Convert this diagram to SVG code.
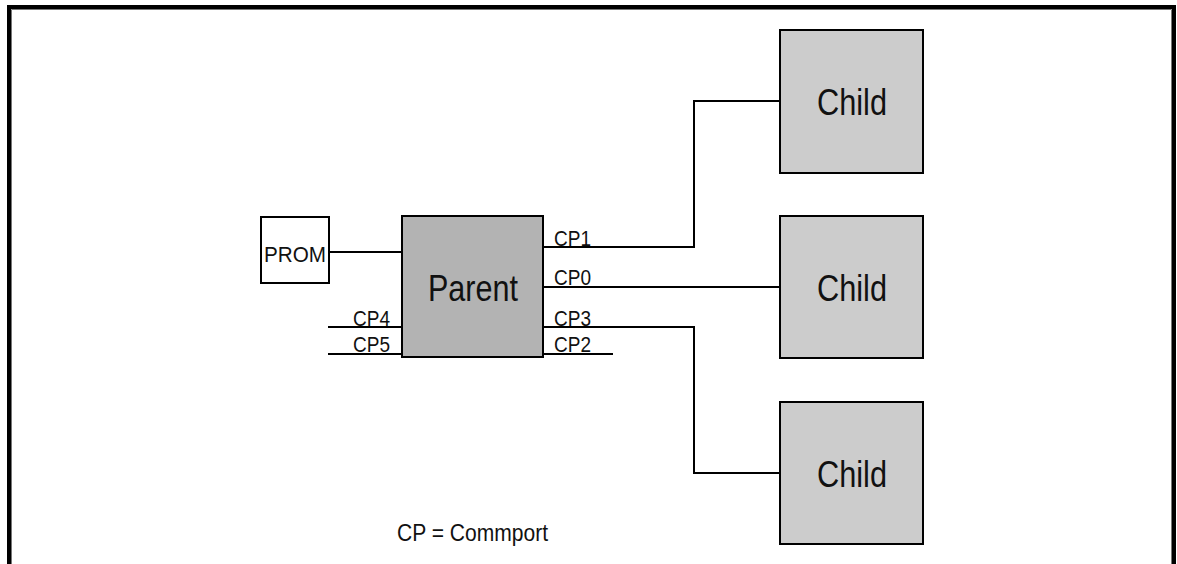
<svg xmlns="http://www.w3.org/2000/svg" width="1177" height="564" viewBox="0 0 1177 564">
<style>
.box{stroke:#000;stroke-width:2}
.parent{fill:#b3b3b3}
.child{fill:#cccccc}
.prom{fill:#fff}
.wire{fill:none;stroke:#000;stroke-width:2}
text{font-family:"Liberation Sans",Arial,sans-serif;fill:#111}
.big{font-size:36px;text-anchor:middle}
.lbl{font-size:22px}
</style>
<rect width="1177" height="564" fill="#fff"/>
<g id="frame">
<path d="M9 564 V7 H1174 V564" fill="none" stroke="#000" stroke-width="4"/>
<path d="M11.5 564 V9.5 H1171.5 V564" fill="none" stroke="#777" stroke-width="1"/>
</g>
<g id="connectors">
<path class="wire" d="M329 252 H402"/>
<path class="wire" d="M543 247 H694 V101 H780"/>
<path class="wire" d="M543 287 H780"/>
<path class="wire" d="M543 327 H694 V473 H780"/>
<path class="wire" d="M543 354 H613"/>
<path class="wire" d="M328 327 H402"/>
<path class="wire" d="M328 354 H402"/>
</g>
<g id="prom">
<rect class="box prom" x="261" y="217" width="68" height="66"/>
<text x="264" y="262" font-size="22" textLength="62" lengthAdjust="spacingAndGlyphs">PROM</text>
</g>
<g id="parent">
<rect class="box parent" x="402" y="216" width="141" height="141"/>
<text class="big" x="473" y="301" font-size="34" textLength="90" lengthAdjust="spacingAndGlyphs">Parent</text>
</g>
<g id="child1">
<rect class="box child" x="780" y="30" width="143" height="143"/>
<text class="big" x="852" y="115" textLength="70" lengthAdjust="spacingAndGlyphs">Child</text>
</g>
<g id="child2">
<rect class="box child" x="780" y="216" width="143" height="142"/>
<text class="big" x="852" y="301" textLength="70" lengthAdjust="spacingAndGlyphs">Child</text>
</g>
<g id="child3">
<rect class="box child" x="780" y="402" width="143" height="142"/>
<text class="big" x="852" y="487" textLength="70" lengthAdjust="spacingAndGlyphs">Child</text>
</g>
<g id="labels">
<text class="lbl" x="554" y="246" textLength="37" lengthAdjust="spacingAndGlyphs">CP1</text>
<text class="lbl" x="554" y="285" textLength="37" lengthAdjust="spacingAndGlyphs">CP0</text>
<text class="lbl" x="554" y="326" textLength="37" lengthAdjust="spacingAndGlyphs">CP3</text>
<text class="lbl" x="554" y="352" textLength="37" lengthAdjust="spacingAndGlyphs">CP2</text>
<text class="lbl" x="353" y="326" textLength="37" lengthAdjust="spacingAndGlyphs">CP4</text>
<text class="lbl" x="353" y="352" textLength="37" lengthAdjust="spacingAndGlyphs">CP5</text>
<text x="397" y="541" font-size="24" textLength="151" lengthAdjust="spacingAndGlyphs">CP = Commport</text>
</g>
</svg>
